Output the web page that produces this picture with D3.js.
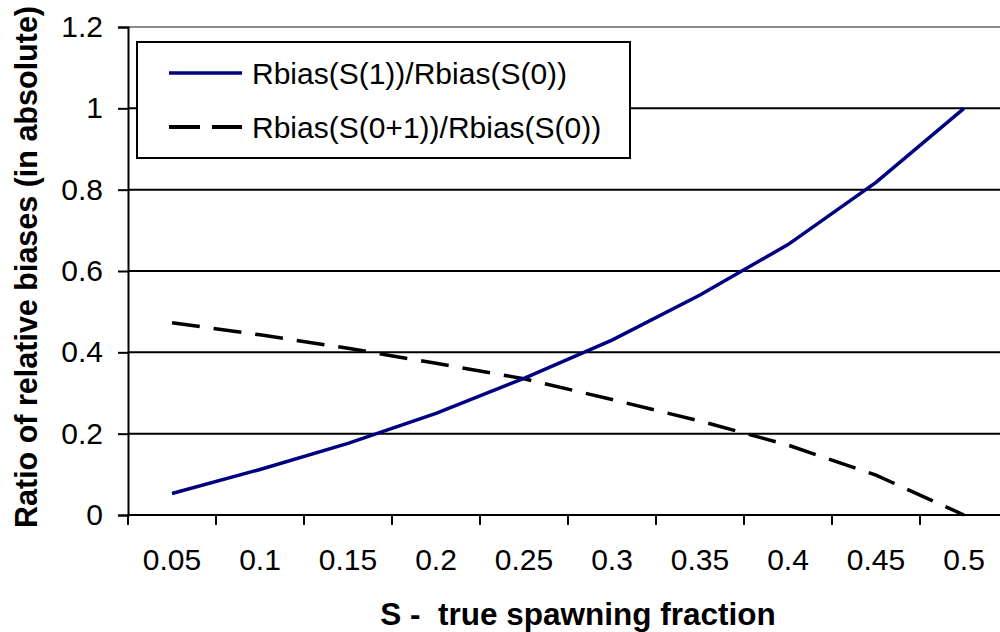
<!DOCTYPE html>
<html>
<head>
<meta charset="utf-8">
<script src="https://cdn.jsdelivr.net/npm/d3@7"></script>
<style>
  html, body { margin: 0; padding: 0; background: #fff; }
  svg { display: block; font-family: "Liberation Sans", Arial, sans-serif; }
</style>
</head>
<body>
<div id="chart"></div>
<script>
// categories on the x axis
const fractions = ['0.05', '0.1', '0.15', '0.2', '0.25', '0.3', '0.35', '0.4', '0.45', '0.5']

// Rbias(S(1))/Rbias(S(0))
const ratioS1 = [0.053, 0.112, 0.176, 0.25, 0.336, 0.43, 0.541, 0.665, 0.818, 1.0]
// Rbias(S(0+1))/Rbias(S(0))
const ratioS01 = [0.473, 0.443, 0.41, 0.373, 0.335, 0.284, 0.231, 0.172, 0.098, 0.0]

const yTicks = [0, 0.2, 0.4, 0.6, 0.8, 1, 1.2]

const seriesNames = ['Rbias(S(1))/Rbias(S(0))', 'Rbias(S(0+1))/Rbias(S(0))']

const fullWidth = 1000,
  fullHeight = 632,
  margin = { top: 27, right: -8, bottom: 117, left: 128 },
  width = fullWidth - margin.left - margin.right,
  height = fullHeight - margin.top - margin.bottom

const svg = d3.select('#chart')
  .append('svg')
    .attr('width', fullWidth)
    .attr('height', fullHeight)

const g = svg.append('g')
  .attr('transform', `translate(${margin.left}, ${margin.top})`)

const xScale = d3.scaleBand()
  .domain(fractions)
  .range([0, width])
  .padding(0)

const yScale = d3.scaleLinear()
  .domain([0, 1.2])
  .range([height, 0])

// gridlines
g.append('g')
  .selectAll('line')
  .data(yTicks.filter(d => d > 0))
  .enter()
  .append('line')
    .attr('x1', 0)
    .attr('x2', width)
    .attr('y1', d => yScale(d))
    .attr('y2', d => yScale(d))
    .attr('stroke', d => d === 1.2 ? '#8a8a8a' : '#000')
    .attr('stroke-width', 2)

// y axis
const yAxis = g.append('g')
  .call(d3.axisLeft(yScale)
    .tickValues(yTicks)
    .tickSize(10)
    .tickPadding(15)
    .tickFormat(d => String(+d.toFixed(1))))
yAxis.select('.domain').attr('stroke', '#000').attr('stroke-width', 2)
yAxis.selectAll('.tick line').attr('stroke-width', 2)
yAxis.selectAll('.tick text')
  .attr('font-size', 30)
  .attr('fill', '#000')
  .attr('font-family', '"Liberation Sans", Arial, sans-serif')

// x axis: labels in band centres, tick marks at band edges
const xAxis = g.append('g')
  .attr('transform', `translate(0, ${height})`)
  .call(d3.axisBottom(xScale).tickSize(0).tickPadding(34))
xAxis.select('.domain').remove()
xAxis.selectAll('.tick text')
  .attr('font-size', 30)
  .attr('fill', '#000')
  .attr('font-family', '"Liberation Sans", Arial, sans-serif')

g.append('line')
  .attr('x1', 0)
  .attr('x2', width)
  .attr('y1', height)
  .attr('y2', height)
  .attr('stroke', '#000')
  .attr('stroke-width', 2)

g.append('g')
  .selectAll('line')
  .data(fractions.concat(['end']))
  .enter()
  .append('line')
    .attr('x1', d => d === 'end' ? width : xScale(d))
    .attr('x2', d => d === 'end' ? width : xScale(d))
    .attr('y1', height)
    .attr('y2', height + 10)
    .attr('stroke', '#000')
    .attr('stroke-width', 2)

// lines
const line = d3.line()
  .x((d, i) => xScale(fractions[i]) + xScale.bandwidth() / 2)
  .y(d => yScale(d))

g.append('path')
  .datum(ratioS01)
  .attr('d', line)
  .attr('fill', 'none')
  .attr('stroke', '#000')
  .attr('stroke-width', 3.5)
  .attr('stroke-dasharray', '28,14')

g.append('path')
  .datum(ratioS1)
  .attr('d', line)
  .attr('fill', 'none')
  .attr('stroke', '#000080')
  .attr('stroke-width', 3.5)

// legend
const legend = svg.append('g')
  .attr('transform', 'translate(137, 42)')

legend.append('rect')
  .attr('width', 493)
  .attr('height', 116)
  .attr('fill', '#fff')
  .attr('stroke', '#000')
  .attr('stroke-width', 2)

const legendRows = legend.selectAll('g.row')
  .data(seriesNames)
  .enter()
  .append('g')
    .attr('class', 'row')
    .attr('transform', (d, i) => `translate(0, ${i === 0 ? 31 : 85})`)

legendRows.append('line')
  .attr('x1', 32)
  .attr('x2', 105)
  .attr('stroke', (d, i) => i === 0 ? '#000080' : '#000')
  .attr('stroke-width', (d, i) => i === 0 ? 3.5 : 4)
  .attr('stroke-dasharray', (d, i) => i === 0 ? null : '31,12')

legendRows.append('text')
  .attr('x', 115)
  .attr('y', 11)
  .attr('font-size', 30)
  .text(d => d)

// axis titles
svg.append('text')
  .attr('x', 578)
  .attr('y', 625)
  .attr('text-anchor', 'middle')
  .attr('font-size', 31.5)
  .attr('font-weight', 'bold')
  .style('white-space', 'pre')
  .text('S -  true spawning fraction')

svg.append('text')
  .attr('transform', `translate(37, ${margin.top + height / 2 - 4}) rotate(-90)`)
  .attr('text-anchor', 'middle')
  .attr('font-size', 30.5)
  .attr('font-weight', 'bold')
  .text('Ratio of relative biases (in absolute)')
</script>
</body>
</html>
